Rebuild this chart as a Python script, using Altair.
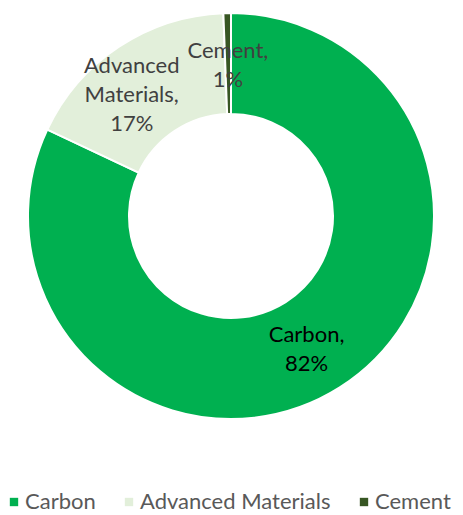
import altair as alt
import pandas as pd

categories = ["Carbon", "Advanced Materials", "Cement"]
values = [82.0, 17.4, 0.6]
labels = ["Carbon,\n82%", "Advanced\nMaterials,\n17%", "Cement,\n1%"]
colors = ["#00B050", "#E2EFDA", "#375623"]
label_colors = ["#000000", "#404040", "#404040"]

df = pd.DataFrame({
    "category": categories,
    "value": values,
    "label": labels,
    "order": list(range(len(categories))),
    "lcolor": label_colors,
})

FONT = "Lato"
theta_scale = alt.Scale(domain=[0, 100])

arcs = alt.Chart(df).mark_arc(
    outerRadius=203, innerRadius=102, stroke="white", strokeWidth=2
).encode(
    theta=alt.Theta("value:Q", stack=True, scale=theta_scale),
    order=alt.Order("order:Q"),
    color=alt.Color(
        "category:N",
        scale=alt.Scale(domain=categories, range=colors),
        sort=categories,
        legend=alt.Legend(
            title=None,
            orient="none",
            legendX=-5,
            legendY=483,
            direction="horizontal",
            symbolType="square",
            symbolSize=70,
            symbolStrokeWidth=0,
            labelFont=FONT,
            labelFontSize=22,
            labelColor="#595959",
            labelLimit=0,
            columnPadding=22,
            labelOffset=0,
            padding=0,
        ),
    ),
)

stacked = alt.Chart(df).transform_stack(
    stack="value", groupby=[], as_=["v0", "v1"], sort=[alt.SortField("order")]
).transform_calculate(mid="(datum.v0 + datum.v1) / 2")


def label_layer(cat, radius):
    return stacked.transform_filter(
        alt.datum.category == cat
    ).mark_text(
        radius=radius, font=FONT, fontSize=22, lineHeight=29,
        align="center", baseline="middle",
    ).encode(
        theta=alt.Theta("mid:Q", scale=theta_scale),
        text=alt.Text("label:N"),
        color=alt.Color("lcolor:N", scale=None),
    )


chart = alt.layer(
    arcs,
    label_layer("Carbon", 141),
    label_layer("Advanced Materials", 180),
    label_layer("Cement", 165),
).properties(
    width=446, height=416,
    padding={"left": 0, "top": 0, "right": 1, "bottom": 90},
    autosize=alt.AutoSizeParams(type="none"),
).configure_view(stroke=None).configure_text(lineBreak="\n")

chart.save("out.html", embed_options={"renderer": "svg", "actions": False})
